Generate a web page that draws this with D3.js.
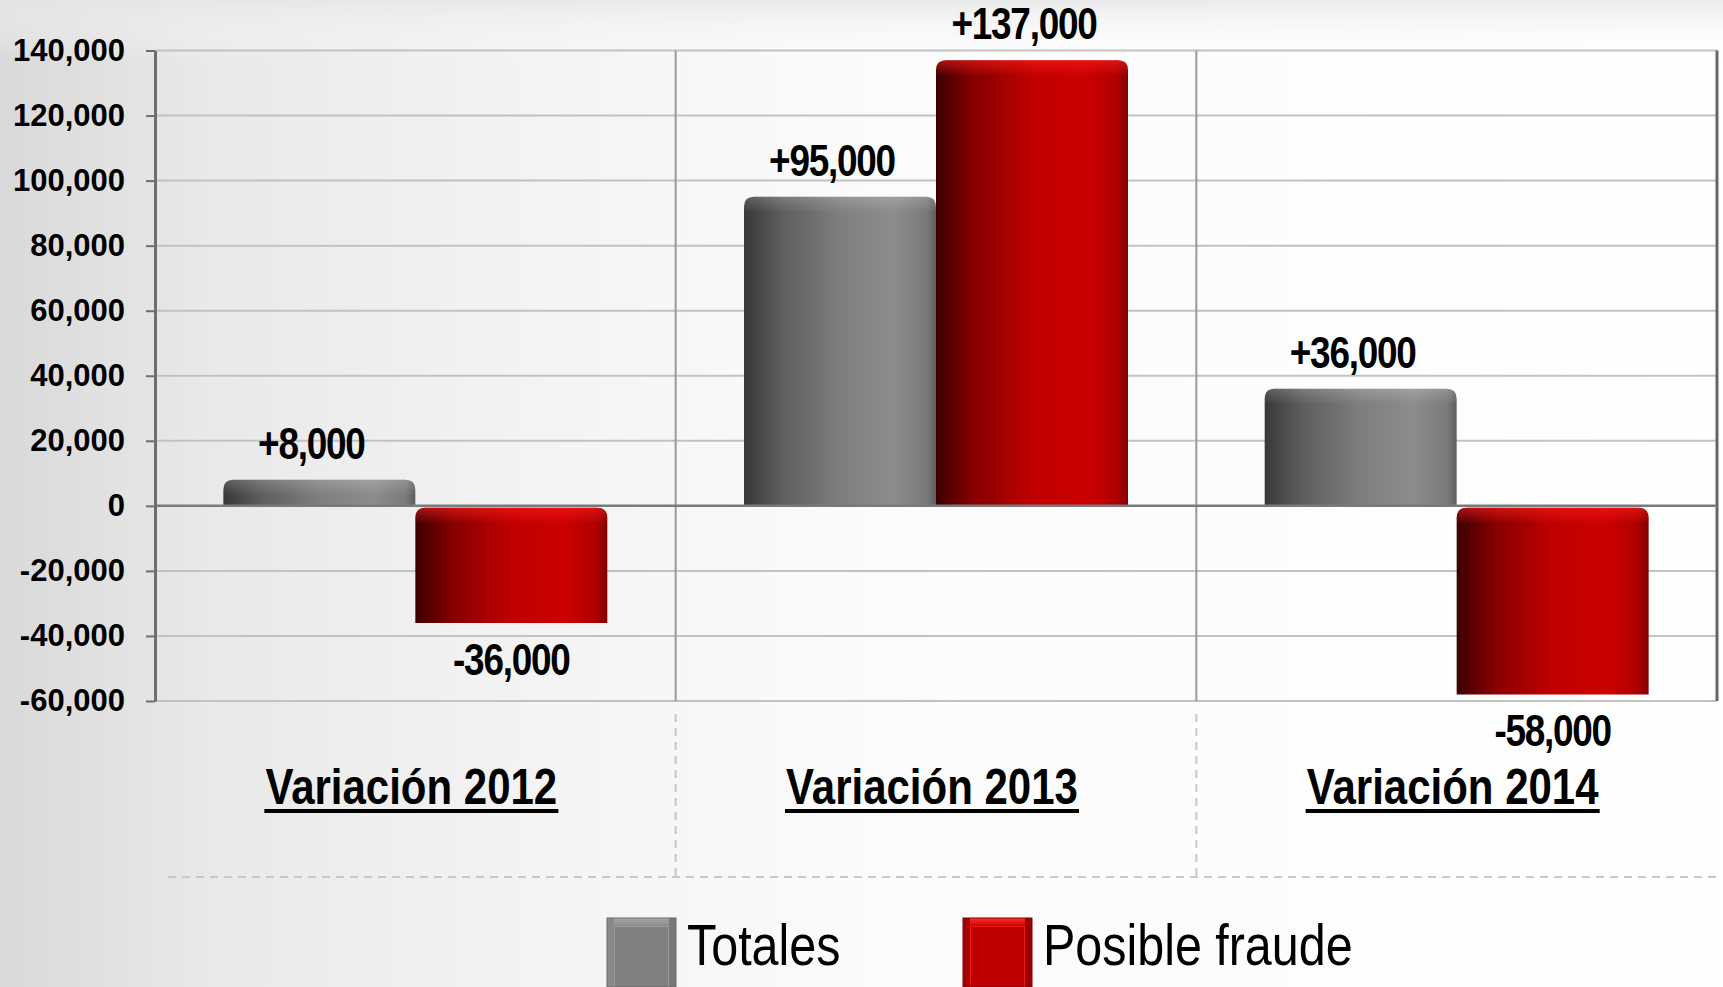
<!DOCTYPE html>
<html>
<head>
<meta charset="utf-8">
<script src="https://cdn.jsdelivr.net/npm/d3@7"></script>
<style>
  body { margin: 0; background: #fff; }
  svg { display: block; }
  text { font-family: Arial, "Liberation Sans", sans-serif; }
</style>
</head>
<body>
<svg width="1723" height="987"></svg>
<script>
// chart values
var categories = ["Variación 2012", "Variación 2013", "Variación 2014"];
var series = ["Totales", "Posible fraude"];
var totales = [8000, 95000, 36000];
var fraude = [-36000, 137000, -58000];
var yTicks = [-60000, -40000, -20000, 0, 20000, 40000, 60000, 80000, 100000, 120000, 140000];

var svg = d3.select("svg");
var W = +svg.attr("width"), H = +svg.attr("height");

// plot box (window.top is read-only, so keep own names)
var plotL = 155, plotR = 1717, plotT = 50.5, plotB = 701;

var x = d3.scaleBand().domain(categories).range([plotL, plotR]).padding(0);
var xs = d3.scaleBand().domain(series).range([0, x.bandwidth()]).paddingInner(0).paddingOuter(0.356);
var y = d3.scaleLinear().domain([-60000, 140000]).range([plotB, plotT]);

var fmt = d3.format(",");
function tickFmt(v) { return (v < 0 ? "-" : "") + fmt(Math.abs(v)); }
function labelFmt(v) { return (v > 0 ? "+" : "-") + fmt(Math.abs(v)); }

var defs = svg.append("defs");

function linGrad(id, x2, y2, stops) {
    var g = defs.append("linearGradient").attr("id", id)
        .attr("x1", 0).attr("y1", 0).attr("x2", x2).attr("y2", y2);
    stops.forEach(function (s) {
        g.append("stop").attr("offset", s[0]).attr("stop-color", s[1]).attr("stop-opacity", s[2] == null ? 1 : s[2]);
    });
}

// background
linGrad("bg", 1, 0, [[0, "#d9d9d9"], [0.12, "#e9e9e9"], [0.3, "#f3f3f3"], [0.5, "#fbfbfb"], [1, "#ffffff"]]);
linGrad("bgTop", 0, 1, [[0, "#e6e6e6", 0.8], [1, "#ffffff", 0]]);
// bars
linGrad("gGray", 1, 0, [[0, "#383838"], [0.2, "#5e5e5e"], [0.5, "#7e7e7e"], [0.78, "#8c8c8c"], [0.95, "#7a7a7a"], [1, "#5e5e5e"]]);
linGrad("gRed", 1, 0, [[0, "#3d0000"], [0.2, "#880000"], [0.5, "#c00000"], [0.78, "#cc0000"], [0.94, "#b00000"], [1, "#800000"]]);
linGrad("gTopGray", 0, 1, [[0, "#ffffff", 0.18], [1, "#ffffff", 0]]);
linGrad("gTopRed", 0, 1, [[0, "#ff2020", 0.55], [1, "#ff2020", 0]]);

svg.append("rect").attr("width", W).attr("height", H).attr("fill", "url(#bg)");
svg.append("rect").attr("width", W).attr("height", 60).attr("fill", "url(#bgTop)");

// gridlines
svg.append("g")
    .selectAll("line")
    .data(yTicks.filter(function (d) { return d !== 0; }))
    .join("line")
    .attr("x1", plotL).attr("x2", plotR)
    .attr("y1", function (d) { return y(d); })
    .attr("y2", function (d) { return y(d); })
    .attr("stroke", "#c2c2c2")
    .attr("stroke-width", 2);

// category separators
svg.append("g")
    .selectAll("line")
    .data(categories.slice(1))
    .join("line")
    .attr("x1", function (d) { return x(d); })
    .attr("x2", function (d) { return x(d); })
    .attr("y1", plotT).attr("y2", plotB)
    .attr("stroke", "#9a9a9a")
    .attr("stroke-width", 2);

// right border
svg.append("line")
    .attr("x1", plotR).attr("x2", plotR).attr("y1", plotT).attr("y2", plotB)
    .attr("stroke", "#666").attr("stroke-width", 3);

// dashed label table
var dash = svg.append("g").attr("stroke", "#c8c8c8").attr("stroke-width", 2).attr("stroke-dasharray", "8,6");
dash.append("line").attr("x1", 168).attr("x2", plotR).attr("y1", 877).attr("y2", 877);
dash.selectAll("line.v")
    .data(categories.slice(1))
    .join("line")
    .attr("class", "v")
    .attr("x1", function (d) { return x(d); })
    .attr("x2", function (d) { return x(d); })
    .attr("y1", 714).attr("y2", 877);

// bars
function barPath(x0, w, yTop, yBot, r) {
    return "M" + x0 + "," + yBot +
        "V" + (yTop + r) +
        "Q" + x0 + "," + yTop + " " + (x0 + r) + "," + yTop +
        "H" + (x0 + w - r) +
        "Q" + (x0 + w) + "," + yTop + " " + (x0 + w) + "," + (yTop + r) +
        "V" + yBot + "Z";
}

var rows = [];
categories.forEach(function (c, i) {
    rows.push({ cat: c, s: series[0], v: totales[i] });
    rows.push({ cat: c, s: series[1], v: fraude[i] });
});

function geom(d) {
    var x0 = x(d.cat) + xs(d.s), w = xs.bandwidth();
    var yTop = d.v >= 0 ? y(d.v) : y(0) + 2;
    var yBot = d.v >= 0 ? y(0) : y(d.v);
    var r = Math.min(10, (yBot - yTop) / 2);
    return { x0: x0, w: w, yTop: yTop, yBot: yBot, r: r };
}

var bars = svg.append("g").selectAll("g").data(rows).join("g");

bars.append("path")
    .attr("d", function (d) { var g = geom(d); return barPath(g.x0, g.w, g.yTop, g.yBot, g.r); })
    .attr("fill", function (d) { return d.s === series[0] ? "url(#gGray)" : "url(#gRed)"; });

bars.append("path")
    .attr("d", function (d) { var g = geom(d); return barPath(g.x0, g.w, g.yTop, Math.min(g.yBot, g.yTop + 16), g.r); })
    .attr("fill", function (d) { return d.s === series[0] ? "url(#gTopGray)" : "url(#gTopRed)"; });

// zero line
svg.append("line")
    .attr("x1", plotL).attr("x2", plotR).attr("y1", y(0)).attr("y2", y(0))
    .attr("stroke", "#7a7a7a").attr("stroke-width", 2.5);

// y axis
var yAxis = svg.append("g")
    .attr("transform", "translate(" + plotL + ",0)")
    .call(d3.axisLeft(y).tickValues(yTicks).tickFormat(tickFmt).tickSize(9).tickSizeOuter(0).tickPadding(21));
yAxis.select(".domain").attr("stroke", "#6e6e6e").attr("stroke-width", 3);
yAxis.selectAll(".tick line").attr("stroke", "#6e6e6e").attr("stroke-width", 2);
yAxis.selectAll(".tick text")
    .attr("fill", "#000")
    .style("font-size", "31px")
    .style("font-weight", "bold")
    .style("font-family", "Arial, 'Liberation Sans', sans-serif");

// value labels
svg.append("g").selectAll("text").data(rows).join("text")
    .attr("transform", function (d) {
        var g = geom(d);
        var cx = g.x0 + g.w / 2 + (d.v >= 0 ? -8 : 0);
        var cy = d.v >= 0 ? g.yTop - 21 : g.yBot + 52;
        return "translate(" + cx + "," + cy + ") scale(0.84,1)";
    })
    .attr("text-anchor", "middle")
    .style("font-size", "44px")
    .style("font-weight", "bold")
    .style("letter-spacing", "-1.5px")
    .attr("fill", "#000")
    .text(function (d) { return labelFmt(d.v); });

// category labels, underlined
var cl = svg.append("g").selectAll("g").data(categories).join("g")
    .attr("transform", function (d) { return "translate(" + (x(d) + x.bandwidth() / 2 - 4) + ",804)"; });
cl.append("text")
    .attr("transform", "scale(0.84,1)")
    .attr("text-anchor", "middle")
    .style("font-size", "50px")
    .style("font-weight", "bold")
    .attr("fill", "#000")
    .text(function (d) { return d; });
cl.append("rect")
    .attr("x", -147).attr("y", 5).attr("width", 294).attr("height", 4)
    .attr("fill", "#000");

// legend
linGrad("lgGray", 0, 1, [[0, "#a8a8a8"], [1, "#8a8a8a"]]);
linGrad("lgRed", 0, 1, [[0, "#ff3030"], [1, "#d00000"]]);
var legX = [607, 963];
var leg = svg.append("g").selectAll("g").data(series).join("g")
    .attr("transform", function (d, i) { return "translate(" + legX[i] + ",918)"; });
leg.append("rect").attr("width", 69).attr("height", 69)
    .attr("fill", function (d, i) { return i === 0 ? "#9a9a9a" : "#e81a1a"; });
leg.append("rect").attr("x", 0).attr("y", 0).attr("width", 69).attr("height", 8)
    .attr("fill", function (d, i) { return i === 0 ? "url(#lgGray)" : "url(#lgRed)"; });
leg.append("rect").attr("x", 0).attr("y", 0).attr("width", 7).attr("height", 69)
    .attr("fill", function (d, i) { return i === 0 ? "#8a8a8a" : "#a80000"; });
leg.append("rect").attr("x", 62).attr("y", 0).attr("width", 7).attr("height", 69)
    .attr("fill", function (d, i) { return i === 0 ? "#777" : "#9a0000"; });
leg.append("rect").attr("x", 8).attr("y", 9).attr("width", 53).attr("height", 60)
    .attr("fill", function (d, i) { return i === 0 ? "#808080" : "#bf0000"; });
leg.append("rect").attr("width", 69).attr("height", 69)
    .attr("fill", "none").attr("stroke", function (d, i) { return i === 0 ? "#6a6a6a" : "#800000"; }).attr("stroke-width", 1);
leg.append("text")
    .attr("transform", "translate(80,47) scale(0.85,1)")
    .style("font-size", "57px")
    .attr("fill", "#000")
    .text(function (d) { return d; });
</script>
</body>
</html>
